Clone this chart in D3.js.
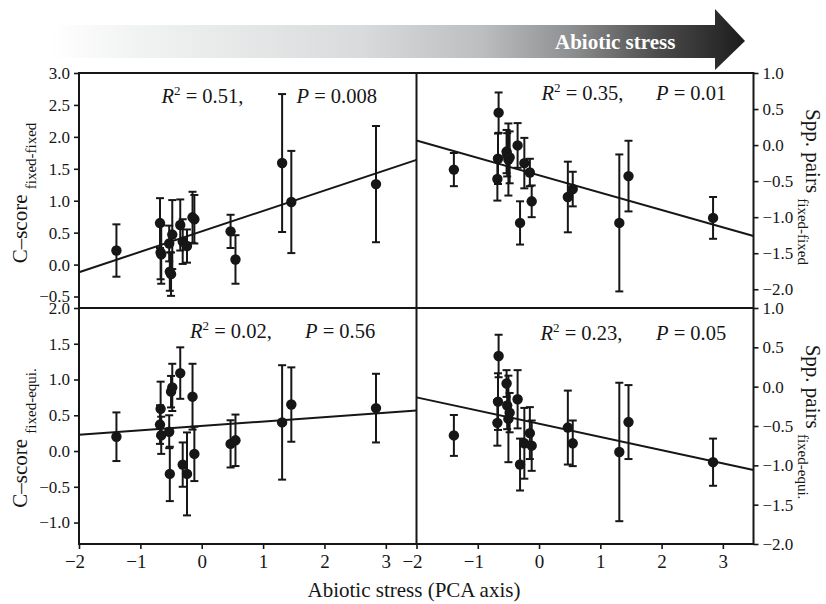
<!DOCTYPE html>
<html><head><meta charset="utf-8">
<script src="https://cdn.jsdelivr.net/npm/d3@7"></script>
<style>
html,body{margin:0;padding:0;background:#fff;}
svg{display:block;font-family:"Liberation Serif","Times New Roman",serif;}
</style></head>
<body>
<svg id="chart" width="826" height="604"></svg>
<script>
// ---- data ----
const stressPCA = [-1.39, -0.68, -0.67, -0.66, -0.53, -0.52, -0.50, -0.48, -0.35, -0.31, -0.24, -0.15, -0.12, 0.47, 0.55, 1.31, 1.46, 2.84];

const cscoreFF     = [0.22, 0.65, 0.19, 0.16, 0.33, -0.11, -0.15, 0.47, 0.62, 0.36, 0.29, 0.74, 0.71, 0.52, 0.08, 1.59, 0.98, 1.26];
const cscoreFFErr  = [0.41, 0.39, 0.42, 0.46, 0.28, 0.30, 0.34, 0.54, 0.40, 0.35, 0.26, 0.40, 0.38, 0.26, 0.38, 1.08, 0.80, 0.91];

const sppFF        = [-0.34, -0.47, -0.19, 0.45, -0.09, -0.135, -0.20, -0.17, -0.005, -1.08, -0.25, -0.38, -0.78, -0.72, -0.61, -1.08, -0.43, -1.01];
const sppFFErr     = [0.23, 0.30, 0.35, 0.28, 0.30, 0.30, 0.50, 0.36, 0.31, 0.30, 0.35, 0.19, 0.22, 0.49, 0.24, 0.95, 0.49, 0.29];

const cscoreFE     = [0.20, 0.37, 0.59, 0.22, 0.27, -0.32, 0.83, 0.89, 1.09, -0.19, -0.32, 0.76, -0.04, 0.10, 0.15, 0.40, 0.65, 0.60];
const cscoreFEErr  = [0.34, 0.27, 0.38, 0.26, 0.23, 0.38, 0.22, 0.33, 0.36, 0.31, 0.58, 0.46, 0.38, 0.33, 0.36, 0.80, 0.52, 0.48];

const sppFE        = [-0.62, -0.46, -0.19, 0.39, 0.04, -0.24, -0.41, -0.33, -0.16, -0.99, -0.72, -0.59, -0.75, -0.52, -0.72, -0.83, -0.45, -0.96];
const sppFEErr     = [0.26, 0.29, 0.36, 0.27, 0.17, 0.30, 0.55, 0.25, 0.37, 0.33, 0.45, 0.33, 0.32, 0.47, 0.29, 0.88, 0.47, 0.30];

// regression fits: [intercept, slope]
const fitCscoreFF = [0.52, 0.32];
const fitSppFF    = [-0.418, -0.241];
const fitCscoreFE = [0.35, 0.062];
const fitSppFE    = [-0.472, -0.168];

const statsText = [
  ["0.51,", "0.008"],
  ["0.35,", "0.01"],
  ["0.02,", "0.56"],
  ["0.23,", "0.05"]
];

const xTicks = [-2, -1, 0, 1, 2, 3];
const yTicksCscoreFF = [-0.5, 0, 0.5, 1.0, 1.5, 2.0, 2.5, 3.0];
const yTicksSppFF    = [-2.0, -1.5, -1.0, -0.5, 0, 0.5, 1.0];
const yTicksCscoreFE = [-1.0, -0.5, 0, 0.5, 1.0, 1.5, 2.0];
const yTicksSppFE    = [-2.0, -1.5, -1.0, -0.5, 0, 0.5, 1.0];

// ---- layout ----
const svg = d3.select("#chart");
const L = 79, M = 416.5, R = 753.5, T = 73, Mid = 308, B = 544;
const ink = "#161616";

// arrow
const defs = svg.append("defs");
const grad = defs.append("linearGradient").attr("id","arrowGrad")
  .attr("gradientUnits","userSpaceOnUse").attr("x1",50).attr("x2",745).attr("y1",0).attr("y2",0);
[[0,"#ffffff"],[0.12,"#f2f3f3"],[0.45,"#d9dadb"],[0.62,"#bdbebf"],[0.75,"#8e8f90"],[0.88,"#4a4a4b"],[1,"#1c1c1c"]]
  .forEach(s => grad.append("stop").attr("offset",s[0]).attr("stop-color",s[1]));
svg.append("path")
  .attr("d","M50,25 L715,25 L715,9 L745,41 L715,70 L715,58 L50,58 Z")
  .attr("fill","url(#arrowGrad)");
svg.append("text").attr("x",555).attr("y",49)
  .attr("fill","#fff").attr("font-weight","bold").attr("font-size",21)
  .text("Abiotic stress");

const xLeft  = d3.scaleLinear().domain([-2, 3.5]).range([L, M]);
const xRight = d3.scaleLinear().domain([-2, 3.5]).range([M, R]);
const yTL = d3.scaleLinear().domain([-0.68, 3.0]).range([Mid, T]);
const yTR = d3.scaleLinear().domain([-2.26, 1.0]).range([Mid, T]);
const yBL = d3.scaleLinear().domain([-1.3, 2.0]).range([B, Mid]);
const yBR = d3.scaleLinear().domain([-2.0, 1.0]).range([B, Mid]);

const fmt1 = d3.format(".1f");

const panels = [
  {x:xLeft,  y:yTL, vals:cscoreFF, err:cscoreFFErr, fit:fitCscoreFF, st:statsText[0], sx:[161.5,296.5], sy:103},
  {x:xRight, y:yTR, vals:sppFF,    err:sppFFErr,    fit:fitSppFF,    st:statsText[1], sx:[541.5,656],   sy:99.5},
  {x:xLeft,  y:yBL, vals:cscoreFE, err:cscoreFEErr, fit:fitCscoreFE, st:statsText[2], sx:[190,305],     sy:337.5},
  {x:xRight, y:yBR, vals:sppFE,    err:sppFEErr,    fit:fitSppFE,    st:statsText[3], sx:[540.5,656],   sy:339.5}
];

panels.forEach(p => {
  const g = svg.append("g");
  const [x0, x1] = p.x.domain();
  g.append("line")
    .attr("x1", p.x(x0)).attr("y1", p.y(p.fit[0] + p.fit[1]*x0))
    .attr("x2", p.x(x1)).attr("y2", p.y(p.fit[0] + p.fit[1]*x1))
    .attr("stroke", ink).attr("stroke-width", 2);
  const data = stressPCA.map((s,i) => ({s, v:p.vals[i], e:p.err[i]}));
  const eb = g.selectAll(".eb").data(data).enter().append("g");
  eb.append("line")
    .attr("x1", d => p.x(d.s)).attr("x2", d => p.x(d.s))
    .attr("y1", d => p.y(d.v + d.e)).attr("y2", d => p.y(d.v - d.e))
    .attr("stroke", ink).attr("stroke-width", 2);
  [1,-1].forEach(sg => {
    eb.append("line")
      .attr("x1", d => p.x(d.s) - 4).attr("x2", d => p.x(d.s) + 4)
      .attr("y1", d => p.y(d.v + sg*d.e)).attr("y2", d => p.y(d.v + sg*d.e))
      .attr("stroke", ink).attr("stroke-width", 2);
  });
  g.selectAll("circle").data(data).enter().append("circle")
    .attr("cx", d => p.x(d.s)).attr("cy", d => p.y(d.v)).attr("r", 5.2)
    .attr("fill", ink);
  const t1 = g.append("text").attr("x", p.sx[0]).attr("y", p.sy).attr("font-size", 20.5).attr("fill", ink);
  t1.append("tspan").attr("font-style","italic").text("R");
  t1.append("tspan").attr("font-size", 13).attr("dy", -8).text("2");
  t1.append("tspan").attr("dy", 8).text(" = " + p.st[0]);
  const t2 = g.append("text").attr("x", p.sx[1]).attr("y", p.sy).attr("font-size", 20.5).attr("fill", ink);
  t2.append("tspan").attr("font-style","italic").text("P");
  t2.append("tspan").text(" = " + p.st[1]);
});

function styleAxis(g, fs){
  g.select(".domain").remove();
  g.selectAll(".tick line").attr("stroke", ink).attr("stroke-width", 1.6);
  g.selectAll(".tick text").attr("font-size", fs).attr("fill", ink)
    .attr("font-family", '"Liberation Serif","Times New Roman",serif');
}
svg.append("g").attr("transform", `translate(${L},0)`)
  .call(d3.axisLeft(yTL).tickValues(yTicksCscoreFF).tickFormat(fmt1).tickSize(5).tickPadding(4))
  .call(g => styleAxis(g, 17));
svg.append("g").attr("transform", `translate(${L},0)`)
  .call(d3.axisLeft(yBL).tickValues(yTicksCscoreFE).tickFormat(fmt1).tickSize(5).tickPadding(4))
  .call(g => styleAxis(g, 17));
svg.append("g").attr("transform", `translate(${R},0)`)
  .call(d3.axisRight(yTR).tickValues(yTicksSppFF).tickFormat(fmt1).tickSize(5).tickPadding(4))
  .call(g => styleAxis(g, 17));
svg.append("g").attr("transform", `translate(${R},0)`)
  .call(d3.axisRight(yBR).tickValues(yTicksSppFE).tickFormat(fmt1).tickSize(5).tickPadding(4))
  .call(g => styleAxis(g, 17));
[xLeft, xRight].forEach(xs => {
  const ax = svg.append("g").attr("transform", `translate(0,${B})`)
    .call(d3.axisBottom(xs).tickValues(xTicks).tickFormat(d3.format("d")).tickSize(5).tickPadding(6))
    .call(g => styleAxis(g, 19));
  ax.selectAll(".tick text").attr("dx", d => d < 0 ? -4.5 : 0);
});

const frame = svg.append("g").attr("fill","none").attr("stroke", ink).attr("stroke-width", 2);
frame.append("rect").attr("x", L).attr("y", T).attr("width", R-L).attr("height", B-T);
frame.append("line").attr("x1", M).attr("x2", M).attr("y1", T).attr("y2", B);
frame.append("line").attr("x1", L).attr("x2", R).attr("y1", Mid).attr("y2", Mid);

function leftTitle(cx, cy, sub){
  const t = svg.append("text").attr("transform", `translate(${cx},${cy}) rotate(-90)`)
    .attr("text-anchor","middle").attr("fill", ink).attr("font-size", 21);
  t.append("tspan").text("C–score ");
  t.append("tspan").attr("font-size", 15).attr("dy", 9).text(sub);
}
function rightTitle(cx, cy, sub){
  const t = svg.append("text").attr("transform", `translate(${cx},${cy}) rotate(90)`)
    .attr("text-anchor","middle").attr("fill", ink).attr("font-size", 21);
  t.append("tspan").text("Spp. pairs ");
  t.append("tspan").attr("font-size", 15).attr("dy", 8).text(sub);
}
leftTitle(27, 193, "fixed-fixed");
leftTitle(27, 438, "fixed-equi.");
rightTitle(806, 187, "fixed-fixed");
rightTitle(806, 422, "fixed-equi.");

svg.append("text").attr("x", 414).attr("y", 597).attr("text-anchor","middle")
  .attr("font-size", 21).attr("fill", ink).text("Abiotic stress (PCA axis)");
</script>
</body></html>
